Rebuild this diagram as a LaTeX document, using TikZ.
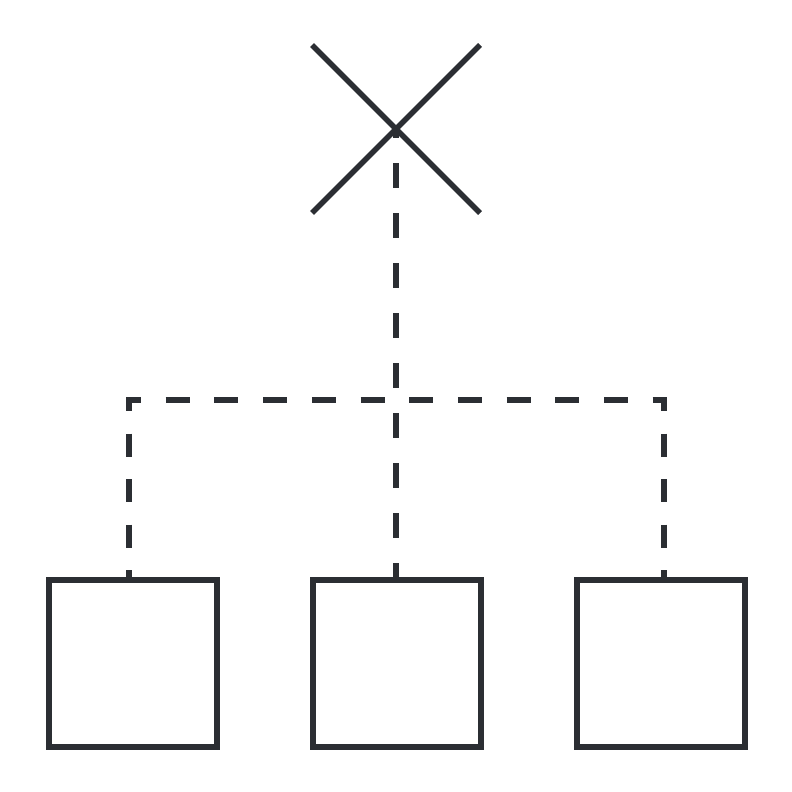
\documentclass[tikz,border=0pt]{standalone}
\usetikzlibrary{shapes.misc}
\definecolor{ink}{HTML}{2B2E33}
\begin{document}
\begin{tikzpicture}[x=1pt,y=-1pt,
  box/.style={draw=ink,line width=5.6pt,minimum width=168pt,minimum height=167pt,inner sep=0pt,outer sep=0pt},
  xmark/.style={draw=ink,cross out,line width=5.4pt,minimum size=168pt,inner sep=0pt,outer sep=0pt},
  link/.style={draw=ink,line width=5.6pt}]
\useasboundingbox (0,0) rectangle (792,792);
\node[xmark] (top) at (396,129) {};
\node[box] (b1) at (133,663.5) {};
\node[box] (b2) at (397,663.5) {};
\node[box] (b3) at (661,663.5) {};
\coordinate (j1) at (129,400);
\coordinate (j3) at (664,400);
\draw[link,dash pattern=on 25pt off 25pt,dash phase=16pt] (top.center) -- (b2.north -| top.center);
\draw[link,dash pattern=on 24pt off 24.7pt,dash phase=9.2pt] ([xshift=-2.8pt]j1) -- ([xshift=2.8pt]j3);
\draw[link,dash pattern=on 23pt off 22.5pt,dash phase=12pt] (j1) -- (b1.north -| j1);
\draw[link,dash pattern=on 23pt off 22.5pt,dash phase=12pt] (j3) -- (b3.north -| j3);
\end{tikzpicture}
\end{document}
